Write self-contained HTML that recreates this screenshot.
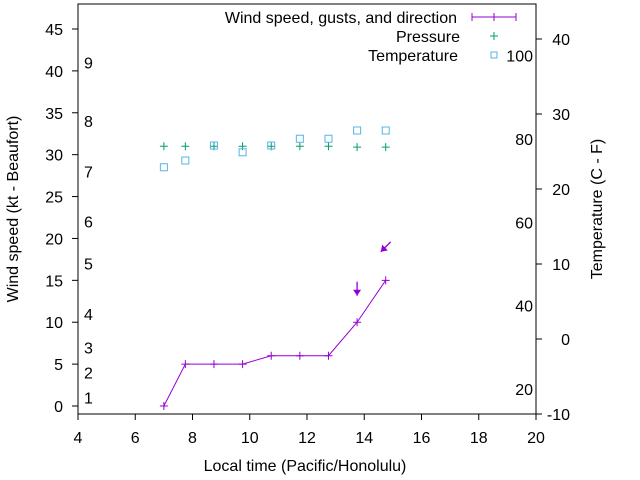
<!DOCTYPE html>
<html><head><meta charset="utf-8"><style>
body{margin:0;background:#fff}
svg{display:block;font-family:"Liberation Sans",sans-serif}
</style></head><body>
<svg id="chart" width="640" height="480" viewBox="0 0 640 480" xmlns="http://www.w3.org/2000/svg">
<g id="axes"></g>
<g id="marks"></g>
<g id="legend">
<text x="457" y="23" text-anchor="end" font-size="16">Wind speed, gusts, and direction</text>
<line x1="472" y1="17" x2="516" y2="17" stroke="#9400d3"/>
<path d="M472 13v8M516 13v8M490 17h8M494 13v8" stroke="#9400d3"/>
<text x="460" y="42" text-anchor="end" font-size="16">Pressure</text>
<path d="M490 36h8M494 32v8" stroke="#009e73"/>
<text x="458" y="61" text-anchor="end" font-size="16">Temperature</text>
<rect x="491" y="52" width="6" height="6" fill="none" stroke="#56b4e9"/>
</g>
</svg>
<script>
const times=[7,7.75,8.75,9.75,10.75,11.75,12.75,13.75,14.75];
const windKt=[0,5,5,5,6,6,6,10,15];
const pressure=[31,31,31,31,31,31,31,30.9,30.9];
const tempC=[22.9,23.8,25.8,24.9,25.8,26.7,26.7,27.8,27.8];
const gustTimes=[13.75,14.75];
const gustKt=[14,19];
const gustDirDeg=[0,45];
const xTicks=[4,6,8,10,12,14,16,18,20];
const yTicks=[0,5,10,15,20,25,30,35,40,45];
const y2Ticks=[-10,0,10,20,30,40];
const beaufortNums=[1,2,3,4,5,6,7,8,9];
const beaufortKt=[1,4,7,11,17,22,28,34,41];
const fahrenheit=[20,40,60,80,100];

const L=78,R=536,T=4,B=414;
const X=v=>L+(v-4)*(R-L)/16;
const Y=v=>406-v*377/45;
const Y2=c=>339-c*7.5;
const NS="http://www.w3.org/2000/svg";
function mk(p,tag,at){const e=document.createElementNS(NS,tag);for(const k in at)e.setAttribute(k,at[k]);p.appendChild(e);return e;}
const ax=document.getElementById('axes'),mg=document.getElementById('marks');

let e=mk(ax,'rect',{x:L,y:T,width:R-L,height:B-T,fill:'none',stroke:'#000'});


xTicks.forEach(v=>{
  let l=mk(ax,'line',{x1:X(v),x2:X(v),y1:B,y2:B+6,stroke:'#000'});
  
  
  let t=mk(ax,'text',{x:X(v),y:443,'text-anchor':'middle','font-size':16});t.textContent=v;
  
  
});
yTicks.forEach(v=>{
  let l=mk(ax,'line',{x1:L-6,x2:L,y1:Y(v),y2:Y(v),stroke:'#000'});
  
  
  let t=mk(ax,'text',{x:63,y:Y(v)+6,'text-anchor':'end','font-size':16});t.textContent=v;
  
  
});
y2Ticks.forEach(v=>{
  let l=mk(ax,'line',{x1:R,x2:R+6,y1:Y2(v),y2:Y2(v),stroke:'#000'});
  
  
  let t=mk(ax,'text',{x:570,y:Y2(v)+6,'text-anchor':'end','font-size':16});t.textContent=v;
  
  
});
beaufortNums.forEach((n,i)=>{
  let t=mk(ax,'text',{x:84,y:Y(beaufortKt[i])+6,'font-size':16});t.textContent=n;
  
  
});
fahrenheit.forEach(f=>{
  let t=mk(ax,'text',{x:533,y:Y2((f-32)*5/9)+6,'text-anchor':'end','font-size':16});t.textContent=f;
  
  
});
let xt=mk(ax,'text',{x:305,y:471,'text-anchor':'middle','font-size':16});xt.textContent='Local time (Pacific/Honolulu)';


let yt=mk(ax,'text',{x:18,y:209,'text-anchor':'middle','font-size':16,transform:'rotate(-90 18 209)'});yt.textContent='Wind speed (kt - Beaufort)';


let y2t=mk(ax,'text',{x:602,y:209,'text-anchor':'middle','font-size':16,transform:'rotate(-90 602 209)'});y2t.textContent='Temperature (C - F)';



let pl=mk(mg,'polyline',{points:times.map((t,i)=>X(t)+','+Y(windKt[i])).join(' '),fill:'none',stroke:'#9400d3'});


times.forEach((t,i)=>{
  let p=mk(mg,'path',{d:`M${X(t)-4} ${Y(windKt[i])}h8M${X(t)} ${Y(windKt[i])-4}v8`,stroke:'#9400d3'});
  
  
  let q=mk(mg,'path',{d:`M${X(t)-4} ${Y(pressure[i])}h8M${X(t)} ${Y(pressure[i])-4}v8`,stroke:'#009e73'});
  
  
  let r=mk(mg,'rect',{x:X(t)-3.5,y:Y2(tempC[i])-3.5,width:7,height:7,fill:'none',stroke:'#56b4e9'});
  
  
});
gustTimes.forEach((t,i)=>{
  const a=gustDirDeg[i]*Math.PI/180,cx=X(t),cy=Y(gustKt[i]);
  const dx=-Math.sin(a)*7,dy=Math.cos(a)*7;
  const tx=cx+dx,ty=cy+dy;
  const ux=dx/7,uy=dy/7;
  const g=mk(mg,'g',{});
  
  
  mk(g,'line',{x1:cx-dx,y1:cy-dy,x2:tx,y2:ty,stroke:'#9400d3','stroke-width':1.3});
  mk(g,'polygon',{points:`${tx},${ty} ${tx-ux*6-uy*4},${ty-uy*6+ux*4} ${tx-ux*6+uy*4},${ty-uy*6-ux*4}`,fill:'#9400d3'});
});
</script>
</body></html>
